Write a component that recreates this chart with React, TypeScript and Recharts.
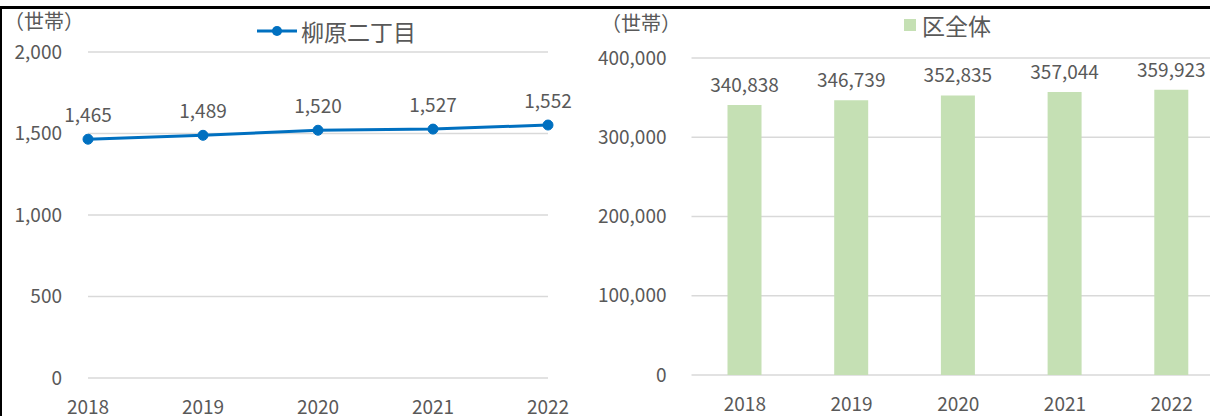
import React from 'react';
import { LineChart, Line, BarChart, Bar, XAxis, YAxis, CartesianGrid, LabelList } from 'recharts';

const years = ['2018', '2019', '2020', '2021', '2022'];
const localHouseholds = [1465, 1489, 1520, 1527, 1552];
const wardHouseholds = [340838, 346739, 352835, 357044, 359923];
const leftTicks = [0, 500, 1000, 1500, 2000];
const rightTicks = [0, 100000, 200000, 300000, 400000];
const localName = '柳原二丁目';
const wardName = '区全体';
const unitLabel = '（世帯）';

const FONT = '"Noto Sans CJK JP", "Noto Sans", sans-serif';
const TEXT = '#595959';
const LINE = '#0070C0';
const BAR = '#C5E0B4';
const GRID = '#D9D9D9';
const FS = 19;

const fmt = (v: any) => Number(v).toLocaleString('en-US');

const leftData = years.map((y, i) => ({ year: y, value: localHouseholds[i] }));
const rightData = years.map((y, i) => ({ year: y, value: wardHouseholds[i] }));

const tickStyle = { fill: TEXT, fontSize: FS, fontFamily: FONT };

export default function App() {
  return (
    <div style={{ position: 'fixed', left: 0, top: 0, width: 1210, height: 416, overflow: 'hidden', background: '#fff', fontFamily: FONT }}>
      {/* left chart */}
      <div style={{ position: 'absolute', left: 0, top: 0, width: 600, height: 416 }}>
        <LineChart width={600} height={416} data={leftData} margin={{ top: 52, right: 52, bottom: 0, left: 0 }}>
          <CartesianGrid horizontal vertical={false} stroke={GRID} strokeWidth={1.3} />
          <XAxis dataKey="year" height={38} axisLine={false} tickLine={false} tickSize={0} tickMargin={23} tick={tickStyle} interval={0} />
          <YAxis width={88} domain={[0, 2000]} ticks={leftTicks} axisLine={false} tickLine={false} tickSize={0} tickMargin={26} tick={tickStyle} tickFormatter={fmt} />
          <Line dataKey="value" stroke={LINE} strokeWidth={3} isAnimationActive={false}
            dot={{ r: 5, fill: LINE, stroke: LINE, strokeWidth: 1 }}>
            <LabelList dataKey="value" position="top" offset={17} formatter={fmt} style={{ fill: TEXT, fontSize: FS, fontFamily: FONT }} />
          </Line>
        </LineChart>
      </div>

      {/* right chart */}
      <div style={{ position: 'absolute', left: 560, top: 0, width: 680, height: 416 }}>
        <BarChart width={680} height={416} data={rightData} margin={{ top: 58, right: 15, bottom: 0, left: 0 }}>
          <CartesianGrid horizontal vertical={false} stroke={GRID} strokeWidth={1.3} />
          <XAxis dataKey="year" height={41} axisLine={false} tickLine={false} tickSize={0} tickMargin={23} tick={tickStyle} interval={0} />
          <YAxis width={131.5} domain={[0, 400000]} ticks={rightTicks} axisLine={false} tickLine={false} tickSize={0} tickMargin={25} tick={tickStyle} tickFormatter={fmt} />
          <Bar dataKey="value" fill={BAR} barSize={34} isAnimationActive={false}>
            <LabelList dataKey="value" position="top" offset={13} formatter={fmt} style={{ fill: TEXT, fontSize: FS, fontFamily: FONT }} />
          </Bar>
        </BarChart>
      </div>

      {/* frame */}
      <div style={{ position: 'absolute', left: 0, top: 6, width: 1210, height: 2.5, background: '#000' }} />
      <div style={{ position: 'absolute', left: 0, top: 6, width: 1.5, height: 410, background: '#000' }} />

      {/* unit labels */}
      <div style={{ position: 'absolute', left: 4, top: 9, fontSize: 20, color: TEXT, lineHeight: '24px' }}>{unitLabel}</div>
      <div style={{ position: 'absolute', left: 601, top: 11, fontSize: 20, color: TEXT, lineHeight: '24px' }}>{unitLabel}</div>

      {/* legends */}
      <div style={{ position: 'absolute', left: 257, top: 17, height: 28, display: 'flex', alignItems: 'center' }}>
        <svg width={42} height={28} style={{ display: 'block' }}>
          <line x1={0} y1={14} x2={40} y2={14} stroke={LINE} strokeWidth={3} />
          <circle cx={20} cy={14} r={5} fill={LINE} />
        </svg>
        <span style={{ fontSize: 23, color: TEXT, lineHeight: '28px', marginLeft: 2 }}>{localName}</span>
      </div>
      <div style={{ position: 'absolute', left: 904, top: 11, height: 28, display: 'flex', alignItems: 'center' }}>
        <svg width={16} height={28} style={{ display: 'block' }}>
          <rect x={0} y={8} width={12} height={12} fill={BAR} />
        </svg>
        <span style={{ fontSize: 23, color: TEXT, lineHeight: '28px', marginLeft: 2 }}>{wardName}</span>
      </div>
    </div>
  );
}
